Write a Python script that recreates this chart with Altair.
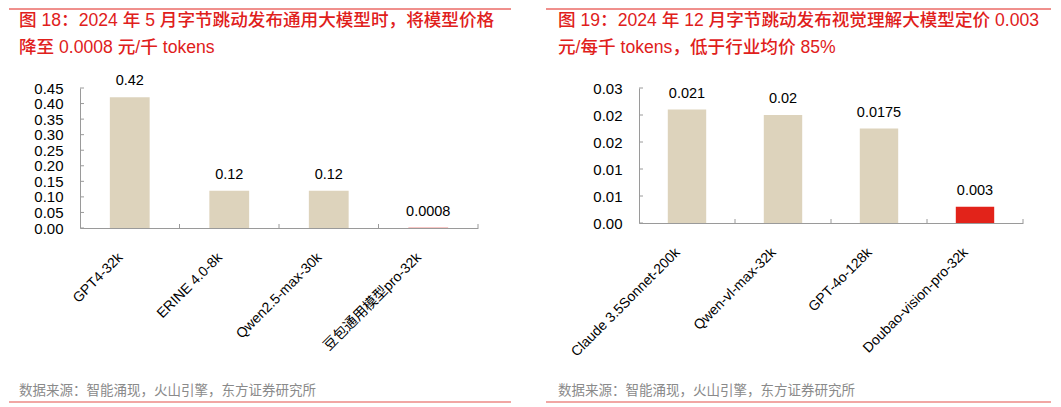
import json
import altair as alt
import pandas as pd

# ---------------- data ----------------
left_models = ["GPT4-32k", "ERINE 4.0-8k", "Qwen2.5-max-30k", "豆包通用模型pro-32k"]
left_prices = [0.42, 0.12, 0.12, 0.0008]
left_labels = ["0.42", "0.12", "0.12", "0.0008"]
left_is_doubao = [False, False, False, True]
left_ticks = [0, 0.05, 0.1, 0.15, 0.2, 0.25, 0.3, 0.35, 0.4, 0.45]
left_tick_labels = ["0.00", "0.05", "0.10", "0.15", "0.20", "0.25", "0.30", "0.35", "0.40", "0.45"]

right_models = ["Claude 3.5Sonnet-200k", "Qwen-vl-max-32k", "GPT-4o-128k", "Doubao-vision-pro-32k"]
right_prices = [0.021, 0.02, 0.0175, 0.003]
right_labels = ["0.021", "0.02", "0.0175", "0.003"]
right_is_doubao = [False, False, False, True]
right_ticks = [0, 0.005, 0.01, 0.015, 0.02, 0.025]
right_tick_labels = ["0.00", "0.01", "0.01", "0.02", "0.02", "0.03"]

left_title = ["图 18：2024 年 5 月字节跳动发布通用大模型时，将模型价格", "降至 0.0008 元/千 tokens"]
right_title = ["图 19：2024 年 12 月字节跳动发布视觉理解大模型定价 0.003", "元/每千 tokens，低于行业均价 85%"]
source_text = "数据来源：智能涌现，火山引擎，东方证券研究所"

# ---------------- style ----------------
FONT = "Liberation Sans, Noto Sans CJK SC"
BEIGE = "#DDD3BC"
RED = "#E2231A"
TITLE_RED = "#E0201B"
GRAY = "#9a9a9a"
BLANK = alt.Data(values=[{}])


def panel(models, prices, labels, is_doubao, ticks, tick_labels, title, W, H,
          rule_x0, rule_x1, text_x):
    df = pd.DataFrame({
        "model": models,
        "price": prices,
        "label": labels,
        "color": [RED if d else BEIGE for d in is_doubao],
    })
    label_expr = f"{json.dumps(tick_labels)}[indexof({json.dumps(ticks)}, datum.value)]"
    x_axis = alt.Axis(title=None, labelAngle=-45, labelAlign="right", labelBaseline="top",
                      labelPadding=22, labelOffset=-14, ticks=False, domainColor=GRAY,
                      labelFont=FONT, labelFontSize=14, labelColor="#000", labelLimit=400)
    y_axis = alt.Axis(title=None, values=ticks, labelExpr=label_expr, ticks=False, grid=False,
                      domainColor=GRAY, labelPadding=17, labelFont=FONT, labelFontSize=15,
                      labelColor="#000")
    xs = alt.Scale(paddingInner=0, paddingOuter=0)
    ys = alt.Scale(domain=[0, ticks[-1]], nice=False, zero=True)

    bars = alt.Chart(df).mark_bar(width={"band": 0.4}).encode(
        x=alt.X("model:N", sort=models, scale=xs, axis=x_axis),
        y=alt.Y("price:Q", scale=ys, axis=y_axis),
        color=alt.Color("color:N", scale=None),
    )
    values = alt.Chart(df).mark_text(baseline="alphabetic", dy=-12, fontSize=14.5, font=FONT,
                                     color="#000").encode(
        x=alt.X("model:N", sort=models, scale=xs, axis=x_axis),
        y=alt.Y("price:Q", scale=ys, axis=y_axis),
        text="label:N",
    )
    yticks = alt.Chart(pd.DataFrame({"price": ticks})).mark_rule(color=GRAY).encode(
        y=alt.Y("price:Q", scale=ys, axis=y_axis),
        x=alt.value(0), x2=alt.value(4),
    )
    xticks = alt.Chart(df).mark_rule(color=GRAY).encode(
        x=alt.X("model:N", sort=models, scale=xs, axis=x_axis, bandPosition=1),
        y=alt.value(H - 4), y2=alt.value(H),
    )
    top_rule = alt.Chart(BLANK).mark_rule(color=TITLE_RED, strokeWidth=1).encode(
        x=alt.value(rule_x0), x2=alt.value(rule_x1), y=alt.value(-79))
    t1 = alt.Chart(BLANK).mark_text(align="left", baseline="middle", fontSize=17.6, fontWeight=500,
                                    color=TITLE_RED, font=FONT, text=title[0]).encode(
        x=alt.value(text_x), y=alt.value(-67))
    t2 = alt.Chart(BLANK).mark_text(align="left", baseline="middle", fontSize=17.6, fontWeight=500,
                                    color=TITLE_RED, font=FONT, text=title[1]).encode(
        x=alt.value(text_x), y=alt.value(-40.5))
    src = alt.Chart(BLANK).mark_text(align="left", baseline="middle", fontSize=13.5,
                                     color="#8a8a8a", font=FONT, text=source_text).encode(
        x=alt.value(text_x), y=alt.value(303))
    bottom_rule = alt.Chart(BLANK).mark_rule(color="#EC8A86", strokeWidth=1.5).encode(
        x=alt.value(rule_x0), x2=alt.value(rule_x1), y=alt.value(314))

    return alt.layer(bars, values, yticks, xticks, top_rule, t1, t2, src, bottom_rule).properties(
        width=W, height=H)


left = panel(left_models, left_prices, left_labels, left_is_doubao, left_ticks, left_tick_labels,
             left_title, 398, 140, -71, 431, -61)
right = panel(right_models, right_prices, right_labels, right_is_doubao, right_ticks,
              right_tick_labels, right_title, 384, 135, -93, 412, -81)

chart = alt.hconcat(left, right, spacing=161, bounds="flush").properties(
    padding=0
).configure_view(stroke=None)

chart.save("out.html", embed_options={"renderer": "svg", "actions": False})
